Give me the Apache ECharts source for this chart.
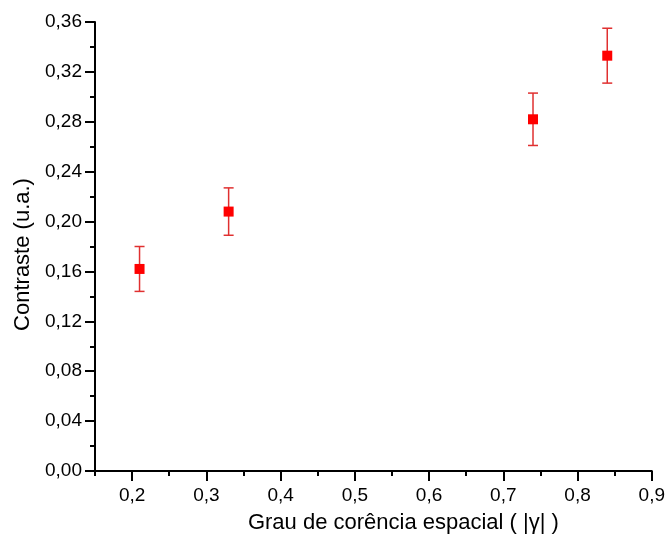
<!DOCTYPE html>
<html>
<head>
<meta charset="utf-8">
<script src="https://cdn.jsdelivr.net/npm/echarts@6/dist/echarts.min.js"></script>
<style>html,body{margin:0;padding:0;background:#fff}#c{width:668px;height:540px}</style>
</head>
<body>
<div id="c"></div>
<script>
var coherence = [0.21, 0.33, 0.74, 0.84];
var contrast = [0.162, 0.208, 0.282, 0.333];
var errors = [0.018, 0.019, 0.021, 0.022];
var xMajorTicks = [0.2, 0.3, 0.4, 0.5, 0.6, 0.7, 0.8, 0.9];
var xMinorTicks = [0.15, 0.25, 0.35, 0.45, 0.55, 0.65, 0.75, 0.85];

var fmtX = function (v) { return v.toFixed(1).replace('.', ','); };
var fmtY = function (v) { return v.toFixed(2).replace('.', ','); };
var font = 'Liberation Sans, Arial, sans-serif';

var points = coherence.map(function (x, i) { return [x, contrast[i]]; });
var bars = coherence.map(function (x, i) { return [x, contrast[i] - errors[i], contrast[i] + errors[i]]; });

var chart = echarts.init(document.getElementById('c'), null, {renderer: 'canvas'});
chart.setOption({
  animation: false,
  backgroundColor: '#fff',
  grid: {left: 95, right: 14, top: 22, bottom: 69, containLabel: false},
  xAxis: [{
    type: 'value', min: 0.15, max: 0.9,
    name: 'Grau de corência espacial ( |γ| )',
    nameLocation: 'middle', nameGap: 41,
    nameTextStyle: {fontFamily: font, fontSize: 22, color: '#000', padding: [0, 0, 0, 60]},
    axisLine: {show: true, onZero: false, lineStyle: {color: '#000', width: 2}},
    axisTick: {show: true, inside: false, length: 10, lineStyle: {color: '#000', width: 2}, customValues: xMajorTicks},
    axisLabel: {show: true, margin: 15, fontFamily: font, fontSize: 19, color: '#000', formatter: fmtX, customValues: xMajorTicks},
    splitLine: {show: false}
  }, {
    type: 'value', min: 0.15, max: 0.9, position: 'bottom', offset: 0,
    axisLine: {show: false, onZero: false},
    axisTick: {show: true, length: 5, lineStyle: {color: '#000', width: 2}, customValues: xMinorTicks},
    axisLabel: {show: false},
    splitLine: {show: false}
  }],
  yAxis: {
    type: 'value', min: 0, max: 0.36, interval: 0.04,
    name: 'Contraste (u.a.)',
    nameLocation: 'middle', nameGap: 60,
    nameTextStyle: {fontFamily: font, fontSize: 22, color: '#000', padding: [0, 16, 0, 0]},
    axisLine: {show: true, onZero: false, lineStyle: {color: '#000', width: 2}},
    axisTick: {show: true, length: 10, lineStyle: {color: '#000', width: 2}},
    minorTick: {show: true, splitNumber: 2, length: 5, lineStyle: {color: '#000', width: 2}},
    axisLabel: {margin: 13, fontFamily: font, fontSize: 19, color: '#000', formatter: fmtY},
    splitLine: {show: false},
    minorSplitLine: {show: false}
  },
  series: [{
    type: 'custom',
    xAxisIndex: 0,
    data: bars,
    renderItem: function (params, api) {
      var x = api.value(0);
      var lo = api.coord([x, api.value(1)]);
      var hi = api.coord([x, api.value(2)]);
      var cap = 5;
      var style = {stroke: '#e03030', lineWidth: 1.5};
      return {
        type: 'group',
        children: [
          {type: 'line', shape: {x1: lo[0], y1: lo[1], x2: hi[0], y2: hi[1]}, style: style},
          {type: 'line', shape: {x1: lo[0] - cap, y1: lo[1], x2: lo[0] + cap, y2: lo[1]}, style: style},
          {type: 'line', shape: {x1: hi[0] - cap, y1: hi[1], x2: hi[0] + cap, y2: hi[1]}, style: style}
        ]
      };
    },
    z: 2
  }, {
    type: 'scatter',
    xAxisIndex: 0,
    data: points,
    symbol: 'rect',
    symbolSize: 10,
    itemStyle: {color: '#ff0000', opacity: 1},
    z: 3
  }]
});
</script>
</body>
</html>
